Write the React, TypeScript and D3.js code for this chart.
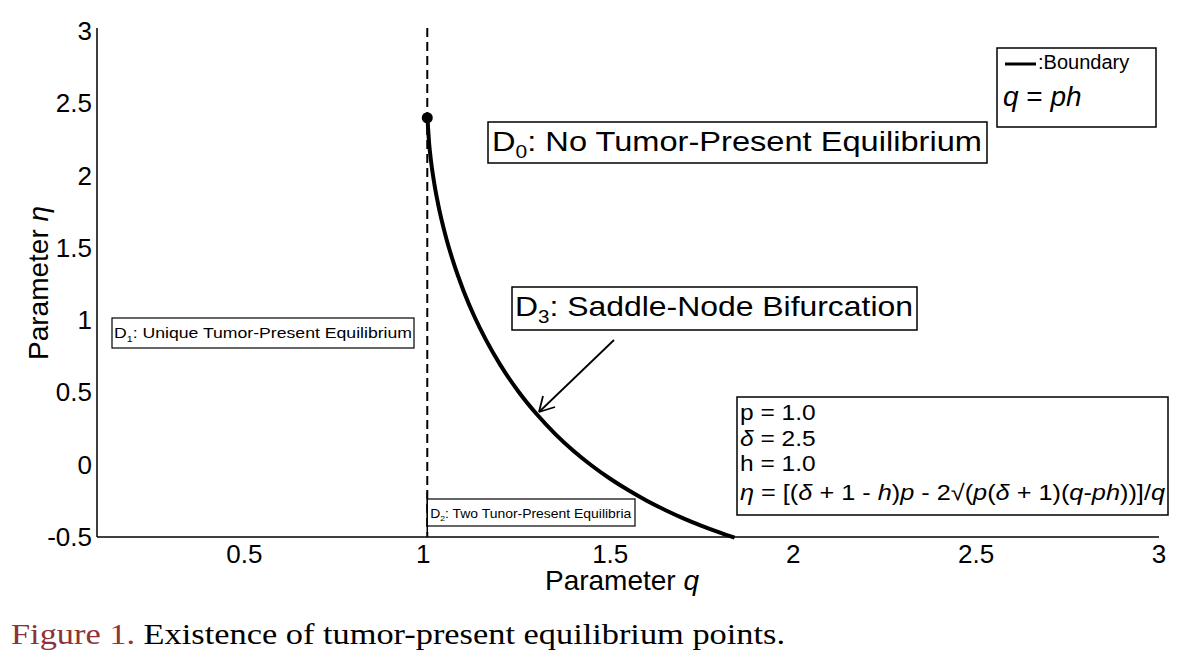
import React from "react";
import * as d3 from "d3";

// Boundary curve samples (q, eta)
const curveQ = [1.001, 1.005, 1.01, 1.02, 1.03, 1.05, 1.07, 1.1, 1.13, 1.16, 1.2, 1.25, 1.3, 1.35, 1.4, 1.45, 1.5, 1.55, 1.6, 1.65, 1.7, 1.75, 1.8, 1.84];
const curveEta = [2.379, 2.224, 2.105, 1.932, 1.798, 1.584, 1.411, 1.197, 1.018, 0.865, 0.689, 0.503, 0.347, 0.212, 0.095, -0.007, -0.097, -0.177, -0.249, -0.313, -0.371, -0.423, -0.47, -0.505];
const startPoint = { q: 1.0, eta: 2.4 };
const boundaryQ = 1.0;
const xTicks = [0.5, 1, 1.5, 2, 2.5, 3];
const yTicks = [-0.5, 0, 0.5, 1, 1.5, 2, 2.5, 3];
const paramLines = ["p = 1.0", "δ = 2.5", "h = 1.0"];

const SANS = "'Liberation Sans', Arial, Helvetica, sans-serif";
const SERIF = "Liberation Serif, Times New Roman, serif";

export default function App() {
  const W = 1200, H = 669;
  const x = d3.scaleLinear().domain([0.1, 3]).range([98, 1159]);
  const y = d3.scaleLinear().domain([-0.5, 3]).range([537, 31]);
  const pts: [number, number][] = curveQ.map((q, i) => [q, curveEta[i]]);
  const line = d3.line<[number, number]>().x(d => x(d[0])).y(d => y(d[1])).curve(d3.curveMonotoneX);

  return (
    <svg width={W} height={H} style={{ position: "absolute", left: 0, top: 0, background: "#fff" }} fontFamily={SANS}>
      <rect width={W} height={H} fill="#fff" />
      {/* axes */}
      <line x1={x(0.1) - 1} x2={x(0.1) - 1} y1={28} y2={537} stroke="#000" strokeWidth={1.5} />
      <line x1={x(0.1) - 1} x2={x(3)} y1={537} y2={537} stroke="#000" strokeWidth={1.5} />
      {yTicks.map(v => (
        <text key={"y" + v} x={92} y={y(v)} fontSize={26} textAnchor="end" dominantBaseline="central">{String(v)}</text>
      ))}
      {xTicks.map(v => (
        <text key={"x" + v} x={x(v) - (v === 1 ? 4 : 0)} y={563} fontSize={26} textAnchor="middle">{String(v)}</text>
      ))}
      <text x={622} y={590} fontSize={28} textAnchor="middle">Parameter <tspan fontStyle="italic">q</tspan></text>
      <text transform="translate(48,283) rotate(-90)" fontSize={28} textAnchor="middle">Parameter <tspan fontStyle="italic">η</tspan></text>

      {/* dashed boundary q = ph */}
      <line x1={x(boundaryQ)} x2={x(boundaryQ)} y1={28} y2={537} stroke="#000" strokeWidth={2} strokeDasharray="9,5" />

      {/* boundary curve */}
      <path d={line(pts) || ""} fill="none" stroke="#000" strokeWidth={4} />
      <circle cx={x(startPoint.q)} cy={y(startPoint.eta)} r={5.5} fill="#000" />

      {/* D0 box */}
      <rect x={488} y={122} width={499} height={41} fill="#fff" stroke="#000" strokeWidth={1.5} />
      <text x={492} y={151} fontSize={28} textLength={490} lengthAdjust="spacingAndGlyphs">D<tspan fontSize={18} dy={7}>0</tspan><tspan dy={-7}>: No Tumor-Present Equilibrium</tspan></text>

      {/* D3 box */}
      <rect x={512} y={287} width={405} height={43} fill="#fff" stroke="#000" strokeWidth={1.5} />
      <text x={515} y={316} fontSize={28} textLength={398} lengthAdjust="spacingAndGlyphs">D<tspan fontSize={18} dy={7}>3</tspan><tspan dy={-7}>: Saddle-Node Bifurcation</tspan></text>

      {/* arrow */}
      <line x1={614} y1={340} x2={539} y2={412} stroke="#000" strokeWidth={1.8} />
      <path d="M 539 412 L 543 396 M 539 412 L 555 407" stroke="#000" strokeWidth={1.8} fill="none" />

      {/* D1 box */}
      <rect x={112} y={318} width={302} height={30} fill="#fff" stroke="#000" strokeWidth={1.2} />
      <text x={114} y={338} fontSize={15} textLength={298} lengthAdjust="spacingAndGlyphs">D<tspan fontSize={9} dy={4}>1</tspan><tspan dy={-4}>: Unique Tumor-Present Equilibrium</tspan></text>

      {/* D2 box */}
      <rect x={x(boundaryQ)} y={499} width={635 - x(boundaryQ)} height={27} fill="#fff" stroke="#000" strokeWidth={1.2} />
      <line x1={x(boundaryQ)} x2={x(boundaryQ)} y1={492} y2={533} stroke="#000" strokeWidth={1.5} />
      <text x={x(boundaryQ) + 3} y={518} fontSize={13} textLength={201} lengthAdjust="spacingAndGlyphs">D<tspan fontSize={8} dy={3}>2</tspan><tspan dy={-3}>: Two Tunor-Present Equilibria</tspan></text>

      {/* params box */}
      <rect x={737} y={397} width={431} height={118} fill="#fff" stroke="#000" strokeWidth={1.5} />
      {paramLines.map((t, i) => (
        <text key={t} x={740} y={420 + i * 25.5} fontSize={22} textLength={t.length * 10.8} lengthAdjust="spacingAndGlyphs">
          {t.startsWith("δ") ? (<><tspan fontStyle="italic">δ</tspan>{t.slice(1)}</>) : t}
        </text>
      ))}
      <text x={740} y={500} fontSize={22} textLength={425} lengthAdjust="spacingAndGlyphs">
        <tspan fontStyle="italic">η</tspan> = [(<tspan fontStyle="italic">δ</tspan> + 1 - <tspan fontStyle="italic">h</tspan>)<tspan fontStyle="italic">p</tspan> - 2√(<tspan fontStyle="italic">p</tspan>(<tspan fontStyle="italic">δ</tspan> + 1)(<tspan fontStyle="italic">q</tspan>-<tspan fontStyle="italic">ph</tspan>))]/<tspan fontStyle="italic">q</tspan>
      </text>

      {/* legend box */}
      <rect x={997} y={48} width={159} height={79} fill="#fff" stroke="#000" strokeWidth={1.5} />
      <line x1={1005} x2={1036} y1={64} y2={64} stroke="#000" strokeWidth={3} />
      <text x={1038} y={69} fontSize={20}>:Boundary</text>
      <text x={1003} y={106} fontSize={28} fontStyle="italic">q<tspan fontStyle="normal"> = </tspan>ph</text>

      {/* caption */}
      <text x={11} y={644} fontSize={29} fontFamily={SERIF} textLength={774} lengthAdjust="spacingAndGlyphs">
        <tspan fill="#8e3437">Figure 1.</tspan> Existence of tumor-present equilibrium points.
      </text>
    </svg>
  );
}
